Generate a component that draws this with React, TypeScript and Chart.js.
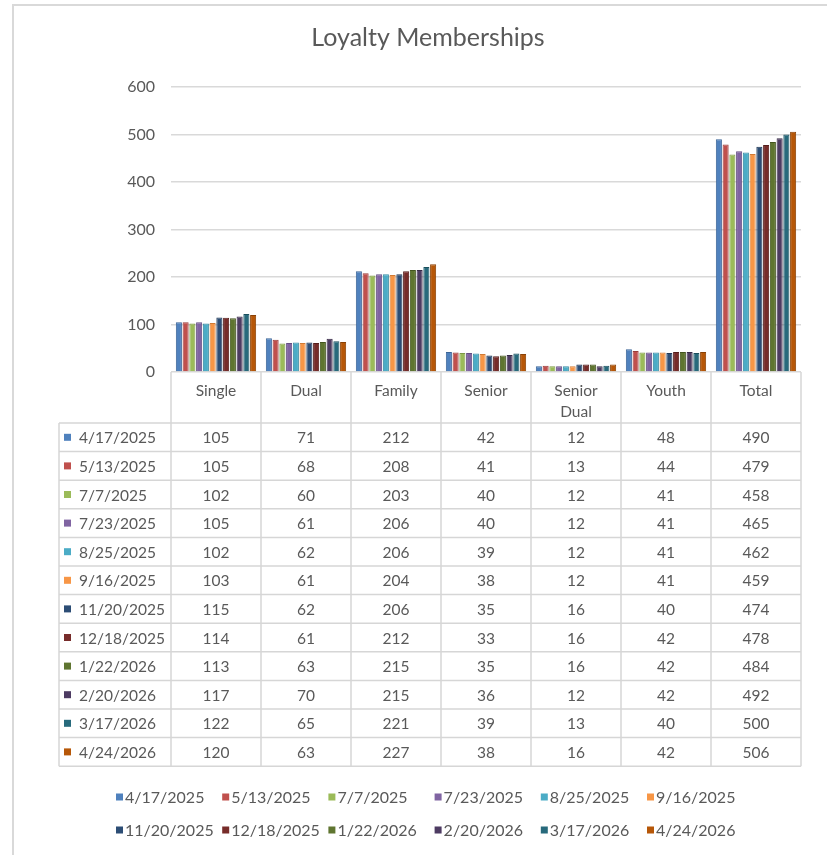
import React, { useEffect, useRef } from "react";
import { Chart, registerables } from "chart.js";

Chart.register(...registerables);

const TITLE = "Loyalty Memberships";
const categories = ["Single", "Dual", "Family", "Senior", "Senior Dual", "Youth", "Total"];
const headerLines = [["Single"], ["Dual"], ["Family"], ["Senior"], ["Senior", "Dual"], ["Youth"], ["Total"]];
const yTicks = [0, 100, 200, 300, 400, 500, 600];

const dates = [
  "4/17/2025", "5/13/2025", "7/7/2025", "7/23/2025", "8/25/2025", "9/16/2025",
  "11/20/2025", "12/18/2025", "1/22/2026", "2/20/2026", "3/17/2026", "4/24/2026",
];

const s_2025_04_17 = [105, 71, 212, 42, 12, 48, 490];
const s_2025_05_13 = [105, 68, 208, 41, 13, 44, 479];
const s_2025_07_07 = [102, 60, 203, 40, 12, 41, 458];
const s_2025_07_23 = [105, 61, 206, 40, 12, 41, 465];
const s_2025_08_25 = [102, 62, 206, 39, 12, 41, 462];
const s_2025_09_16 = [103, 61, 204, 38, 12, 41, 459];
const s_2025_11_20 = [115, 62, 206, 35, 16, 40, 474];
const s_2025_12_18 = [114, 61, 212, 33, 16, 42, 478];
const s_2026_01_22 = [113, 63, 215, 35, 16, 42, 484];
const s_2026_02_20 = [117, 70, 215, 36, 12, 42, 492];
const s_2026_03_17 = [122, 65, 221, 39, 13, 40, 500];
const s_2026_04_24 = [120, 63, 227, 38, 16, 42, 506];

const seriesValues = [
  s_2025_04_17, s_2025_05_13, s_2025_07_07, s_2025_07_23, s_2025_08_25, s_2025_09_16,
  s_2025_11_20, s_2025_12_18, s_2026_01_22, s_2026_02_20, s_2026_03_17, s_2026_04_24,
];

const colors = [
  "#4F81BD", "#C0504D", "#9BBB59", "#8064A2", "#4BACC6", "#F79646",
  "#2C4D75", "#772C2A", "#5F7530", "#4D3B62", "#276A7C", "#B65708",
];
const borderColors = [
  "#3A6497", "#9B3D3A", "#7C9846", "#644D83", "#388CA3", "#D07A34",
  "#1F3856", "#561E1C", "#44551F", "#362946", "#1A4F5D", "#8A4105",
];

const FONT = "Lato, 'Open Sans', sans-serif";
const TEXT = "#595959";
const LINE = "#D6D6D6";

const W = 827;
const H = 855;

const decorPlugin = {
  id: "excelDecor",
  afterDraw(chart: any) {
    const ctx = chart.ctx as CanvasRenderingContext2D;
    const area = chart.chartArea;
    const labels = chart.data.labels as string[];
    const n = labels.length;
    const xs = chart.scales.x;
    const catW = (area.right - area.left) / n;
    ctx.save();

    // outer chart border (cropped)
    ctx.strokeStyle = "#D9D9D9";
    ctx.lineWidth = 2;
    ctx.beginPath();
    ctx.moveTo(13, H);
    ctx.lineTo(13, 5);
    ctx.lineTo(W, 5);
    ctx.stroke();

    // title
    ctx.fillStyle = TEXT;
    ctx.font = `25px ${FONT}`;
    ctx.textAlign = "center";
    ctx.textBaseline = "middle";
    ctx.fillText(TITLE, 428, 38);

    // data table
    const tableTop = 423;
    const rowH = 28.6;
    const nRows = chart.data.datasets.length;
    const tableBottom = tableTop + rowH * nRows;
    const leftX = 59;

    ctx.strokeStyle = LINE;
    ctx.lineWidth = 1.5;
    ctx.beginPath();
    for (let i = 0; i <= n; i++) {
      const bx = xs.getPixelForValue(0) - catW / 2 + i * catW;
      ctx.moveTo(bx, area.bottom);
      ctx.lineTo(bx, tableBottom);
    }
    ctx.moveTo(leftX, tableTop);
    ctx.lineTo(leftX, tableBottom);
    for (let r = 0; r <= nRows; r++) {
      const y = tableTop + r * rowH;
      ctx.moveTo(leftX, y);
      ctx.lineTo(area.right, y);
    }
    ctx.stroke();

    ctx.font = `15.5px ${FONT}`;
    ctx.fillStyle = TEXT;
    ctx.textAlign = "center";
    ctx.textBaseline = "middle";
    headerLines.forEach((lines, i) => {
      const cx = xs.getPixelForValue(i);
      lines.forEach((t, k) => ctx.fillText(t, cx, 391 + k * 21));
    });

    chart.data.datasets.forEach((ds: any, r: number) => {
      const cy = tableTop + rowH * (r + 0.5);
      ctx.fillStyle = ds.backgroundColor;
      ctx.fillRect(64, cy - 3.5, 7, 7);
      ctx.fillStyle = TEXT;
      ctx.textAlign = "left";
      ctx.fillText(ds.label, 79, cy + 1);
      ctx.textAlign = "center";
      (ds.data as number[]).forEach((v, i) => {
        ctx.fillText(String(v), xs.getPixelForValue(i), cy + 1);
      });
    });

    // legend
    ctx.font = `16px ${FONT}`;
    chart.data.datasets.forEach((ds: any, k: number) => {
      const col = k % 6;
      const row = Math.floor(k / 6);
      const sx = 116 + col * 106.2;
      const sy = 797 + row * 33;
      ctx.fillStyle = ds.backgroundColor;
      ctx.fillRect(sx, sy - 3.5, 7, 7);
      ctx.fillStyle = TEXT;
      ctx.textAlign = "left";
      ctx.fillText(ds.label, sx + 9, sy + 1);
    });

    ctx.restore();
  },
};

export default function App() {
  const ref = useRef<HTMLCanvasElement | null>(null);

  useEffect(() => {
    if (!ref.current) return;
    const chart = new Chart(ref.current, {
      type: "bar",
      data: {
        labels: categories,
        datasets: dates.map((d, i) => ({
          label: d,
          data: seriesValues[i],
          backgroundColor: colors[i],
          borderColor: borderColors[i],
          borderWidth: 1,
          categoryPercentage: 0.9,
          barPercentage: 0.9,
        })),
      },
      options: {
        responsive: false,
        animation: false,
        devicePixelRatio: 1,
        layout: { padding: { left: 0, right: 26, top: 87, bottom: 483 } },
        plugins: {
          legend: { display: false },
          title: { display: false },
          tooltip: { enabled: false },
        },
        scales: {
          x: { display: false },
          y: {
            min: 0,
            max: 600,
            afterFit: (scale: any) => {
              scale.width = 171;
            },
            afterBuildTicks: (scale: any) => {
              scale.ticks = yTicks.map((v) => ({ value: v }));
            },
            border: { display: false },
            grid: { color: "#D9D9D9", lineWidth: 1.5, drawTicks: false },
            ticks: {
              padding: 16,
              color: TEXT,
              font: { family: FONT, size: 16 },
            },
          },
        },
      },
      plugins: [decorPlugin],
    });
    return () => chart.destroy();
  }, []);

  return (
    <div style={{ position: "fixed", left: 0, top: 0, width: W, height: H, background: "#fff" }}>
      <canvas ref={ref} width={W} height={H} style={{ width: W, height: H, display: "block" }} />
    </div>
  );
}
